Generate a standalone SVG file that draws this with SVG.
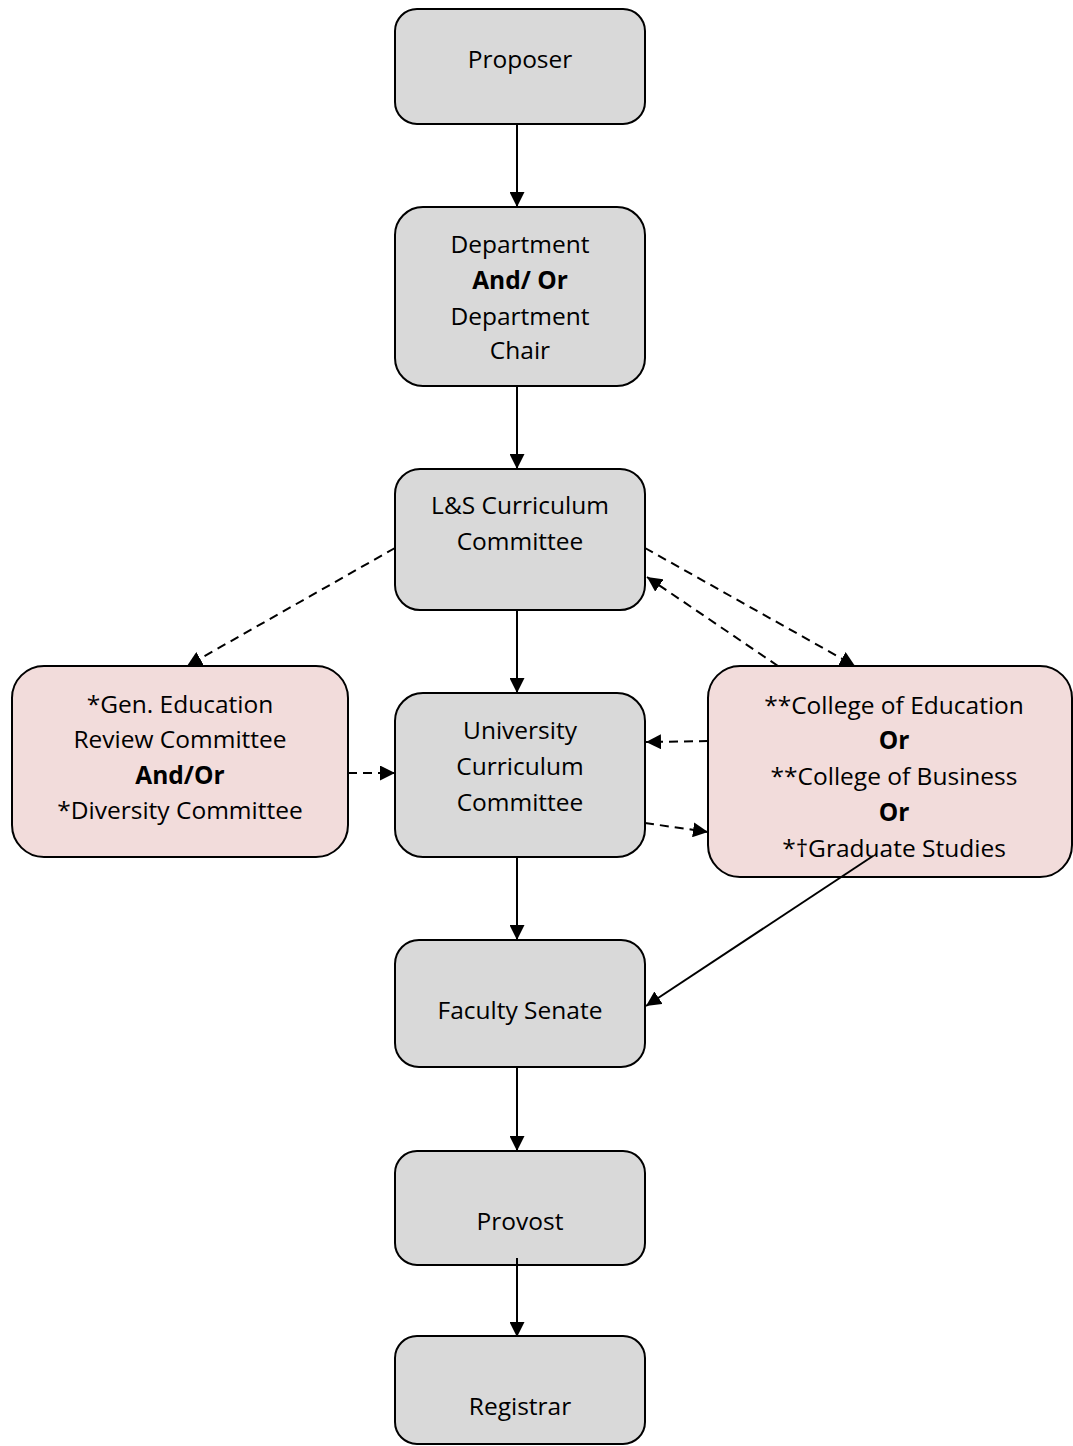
<svg xmlns="http://www.w3.org/2000/svg" width="1073" height="1446" viewBox="0 0 1073 1446">
<style>
.box{stroke:#000;stroke-width:2}
.g{fill:#d9d9d9}
.p{fill:#f2dcdb}
text{font-family:"Open Sans","Noto Sans",sans-serif;font-size:24.5px;fill:#000;text-anchor:middle}
.b{font-weight:bold}
.c{stroke:#000;stroke-width:2;fill:none}
.d{stroke-dasharray:9 6}
</style>
<defs>
<marker id="ah" viewBox="0 0 15 15" refX="15" refY="7.5" markerWidth="15" markerHeight="15" markerUnits="userSpaceOnUse" orient="auto">
<path d="M0,0 L15,7.5 L0,15 z" fill="#000"/>
</marker>
</defs>
<g id="proposer">
<rect class="box g" x="395" y="9" width="250" height="115" rx="22"/>
<text x="520" y="68">Proposer</text>
</g>
<g id="department">
<rect class="box g" x="395" y="207" width="250" height="179" rx="28"/>
<text x="520" y="253">Department</text>
<text x="520" y="289" class="b">And/ Or</text>
<text x="520" y="325">Department</text>
<text x="520" y="359">Chair</text>
</g>
<g id="ls-curriculum">
<rect class="box g" x="395" y="469" width="250" height="141" rx="25"/>
<text x="520" y="514">L&amp;S Curriculum</text>
<text x="520" y="550">Committee</text>
</g>
<g id="university-curriculum">
<rect class="box g" x="395" y="693" width="250" height="164" rx="28"/>
<text x="520" y="739">University</text>
<text x="520" y="775">Curriculum</text>
<text x="520" y="811">Committee</text>
</g>
<g id="faculty-senate">
<rect class="box g" x="395" y="940" width="250" height="127" rx="24"/>
<text x="520" y="1019">Faculty Senate</text>
</g>
<g id="provost">
<rect class="box g" x="395" y="1151" width="250" height="114" rx="22"/>
<text x="520" y="1230">Provost</text>
</g>
<g id="registrar">
<rect class="box g" x="395" y="1336" width="250" height="108" rx="22"/>
<text x="520" y="1415">Registrar</text>
</g>
<g id="gen-ed">
<rect class="box p" x="12" y="666" width="336" height="191" rx="32"/>
<text x="180" y="713">*Gen. Education</text>
<text x="180" y="748">Review Committee</text>
<text x="180" y="784" class="b">And/Or</text>
<text x="180" y="819">*Diversity Committee</text>
</g>
<g id="colleges">
<rect class="box p" x="708" y="666" width="364" height="211" rx="32"/>
<text x="894" y="714">**College of Education</text>
<text x="894" y="749" class="b">Or</text>
<text x="894" y="785">**College of Business</text>
<text x="894" y="821" class="b">Or</text>
<text x="894" y="857">*†Graduate Studies</text>
</g>
<g id="connectors">
<line class="c" x1="517" y1="124" x2="517" y2="207" marker-end="url(#ah)"/>
<line class="c" x1="517" y1="386" x2="517" y2="469" marker-end="url(#ah)"/>
<line class="c" x1="517" y1="610" x2="517" y2="693" marker-end="url(#ah)"/>
<line class="c" x1="517" y1="857" x2="517" y2="940" marker-end="url(#ah)"/>
<line class="c" x1="517" y1="1067" x2="517" y2="1151" marker-end="url(#ah)"/>
<line class="c" x1="517" y1="1258" x2="517" y2="1337" marker-end="url(#ah)"/>
<line class="c d" x1="395" y1="548" x2="187" y2="666" marker-end="url(#ah)"/>
<line class="c d" x1="645" y1="548" x2="855" y2="666" marker-end="url(#ah)"/>
<line class="c d" x1="778" y1="666" x2="647" y2="577" marker-end="url(#ah)"/>
<line class="c d" x1="348" y1="773" x2="395" y2="773" marker-end="url(#ah)"/>
<line class="c d" x1="708" y1="741" x2="646" y2="742" marker-end="url(#ah)"/>
<line class="c d" x1="645" y1="823" x2="708" y2="832" marker-end="url(#ah)"/>
<line class="c" x1="873" y1="856" x2="646" y2="1006" marker-end="url(#ah)"/>
</g>
</svg>
